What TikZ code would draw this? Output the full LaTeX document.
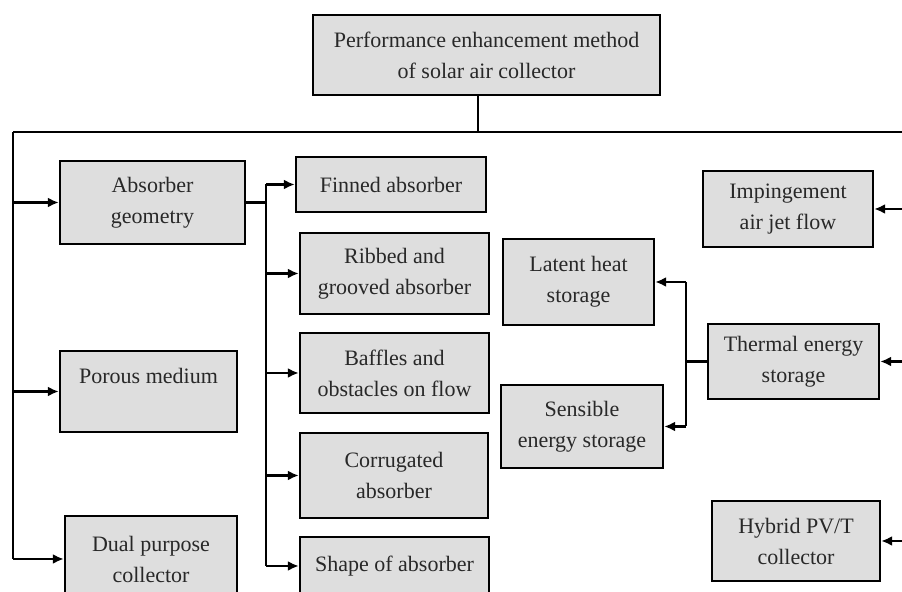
\documentclass[tikz,border=0pt]{standalone}
\usepackage{fontspec}
\setmainfont{Liberation Serif}
\newfontfamily\boxfont{Liberation Serif}
\usetikzlibrary{shapes,arrows,arrows.meta,positioning}
\definecolor{boxgray}{RGB}{222,222,222}
\definecolor{textgray}{RGB}{40,40,40}
\tikzstyle{block} = [rectangle, draw, fill=boxgray, line width=1.2pt, align=center, inner sep=2pt, text=textgray, font=\boxfont\fontsize{11}{15.5}\selectfont]
\tikzstyle{wire} = [draw, line width=1.1pt]
\tikzstyle{line} = [draw, line width=1.1pt, -{Latex[length=5.5pt,width=5pt]}]

\begin{document}
\begin{tikzpicture}[x=0.5pt, y=-0.5pt]
        \useasboundingbox (0,0) rectangle (902,592);
        \clip (0,0) rectangle (902,592);

        \node [block, minimum width=173.5pt, minimum height=40pt] (method) at (486.5,55) {Performance enhancement method\\of solar air collector};

        % left column
        \node [block, minimum width=92.5pt, minimum height=41.5pt] (absorber) at (152.5,202.5) {Absorber\\geometry};
        \node [block, minimum width=88.5pt, minimum height=40.5pt] (porous) at (148.5,391.5) {Porous medium\\\mbox{}};
        \node [block, minimum width=86pt, minimum height=43pt] (dual) at (151,559) {Dual purpose\\collector};

        % absorber geometry types
        \node [block, minimum width=95pt, minimum height=27.5pt] (finned) at (391,184.5) {Finned absorber};
        \node [block, minimum width=94.5pt, minimum height=40.5pt] (ribbed) at (394.5,273.5) {Ribbed and\\grooved absorber};
        \node [block, minimum width=94.5pt, minimum height=40pt] (baffles) at (394.5,373) {Baffles and\\obstacles on flow};
        \node [block, minimum width=94pt, minimum height=42.5pt] (corrugated) at (394,475.5) {Corrugated\\absorber};
        \node [block, minimum width=94.5pt, minimum height=29pt] (shapeabs) at (394.5,566) {Shape of absorber};

        % storage
        \node [block, minimum width=75.5pt, minimum height=43pt] (latent) at (578.5,282) {Latent heat\\storage};
        \node [block, minimum width=81pt, minimum height=41.5pt] (sensible) at (582,426.5) {Sensible\\energy storage};

        % right column
        \node [block, minimum width=85pt, minimum height=38pt] (impinge) at (788,209) {Impingement\\air jet flow};
        \node [block, minimum width=85.5pt, minimum height=37.5pt] (thermal) at (793.5,361.5) {Thermal energy\\storage};
        \node [block, minimum width=84pt, minimum height=40pt] (hybrid) at (796,541) {Hybrid PV/T\\collector};

        \coordinate (bus) at (478,132);
        \coordinate (busleft) at (13,132);
        \coordinate (busright) at (906,132);
        \coordinate (geo) at (266,200);
        \coordinate (tes) at (686,361.5);

        \path [wire] (method.south -| bus) -- (bus);
        \path [wire] (busleft) -- (busright);
        \path [wire] (busleft) -- (busleft |- dual);
        \path [wire] (busright) -- (busright |- hybrid);

        \path [line] (busleft |- absorber) -- (absorber);
        \path [line] (busleft |- porous) -- (porous);
        \path [line] (busleft |- dual) -- (dual);

        \path [line] (busright |- impinge) -- (impinge);
        \path [line] (busright |- thermal) -- (thermal);
        \path [line] (busright |- hybrid) -- (hybrid);

        \path [wire] (absorber.east) -- (absorber.east -| geo);
        \path [wire] (geo |- finned) -- (geo |- shapeabs);
        \foreach \n in {finned, ribbed, baffles, corrugated, shapeabs}
            \path [line] (geo |- \n) -- (\n);

        \path [wire] (thermal.west) -- (tes);
        \path [wire] (tes |- latent) -- (tes |- sensible);
        \path [line] (tes |- latent) -- (latent);
        \path [line] (tes |- sensible) -- (sensible);
      \end{tikzpicture}
\end{document}
